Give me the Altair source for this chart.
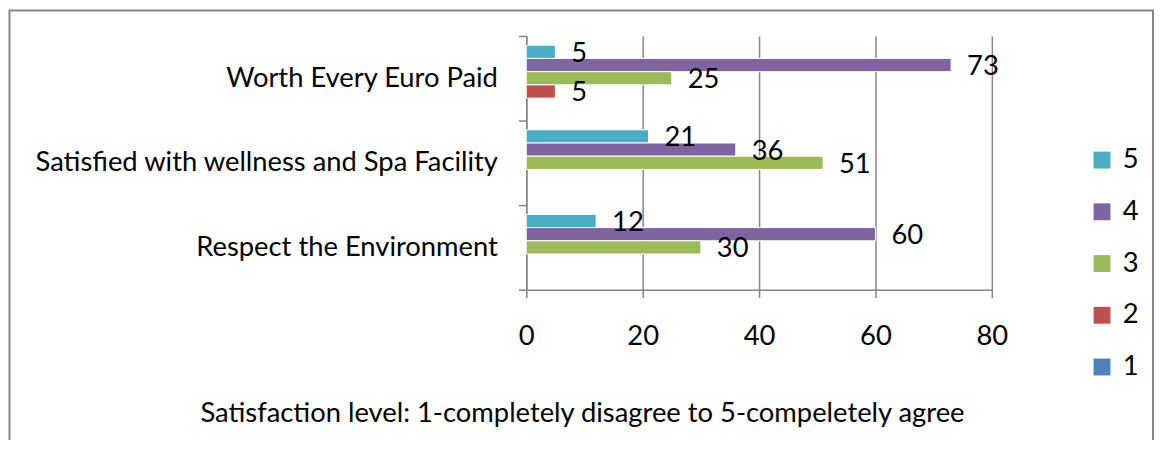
import altair as alt
import pandas as pd

categories = ["Worth Every Euro Paid", "Satisfied with wellness and Spa Facility", "Respect the Environment"]
levels = ["5", "4", "3", "2", "1"]
level5 = [5, 21, 12]
level4 = [73, 36, 60]
level3 = [25, 51, 30]
level2 = [5, 0, 0]
level1 = [0, 0, 0]
colors = ["#4BACC6", "#8064A2", "#9BBB59", "#C0504D", "#4F81BD"]
x_ticks = [0, 20, 40, 60, 80]
note = "Satisfaction level: 1-completely disagree to 5-compeletely agree"

series = {"5": level5, "4": level4, "3": level3, "2": level2, "1": level1}
rows = []
for lvl in levels:
    for cat, v in zip(categories, series[lvl]):
        rows.append({"category": cat, "level": lvl, "value": v})
df = pd.DataFrame(rows)

FONT = "Lato"
FS = 27.5
GRAY = "#868686"
PAD_L = 521

y_enc = alt.Y("category:N", sort=categories,
              scale=alt.Scale(domain=categories, paddingInner=0, paddingOuter=0),
              axis=alt.Axis(title=None, tickBand="extent", labelFont=FONT, labelFontSize=FS,
                            labelColor="black", labelPadding=21, tickSize=8, tickColor=GRAY,
                            tickWidth=1.5, domainColor=GRAY, domainWidth=1.5, grid=False,
                            labelLimit=600))
yoff_enc = alt.YOffset("level:N", scale=alt.Scale(domain=levels, paddingInner=0, paddingOuter=0.7))
x_enc = alt.X("value:Q", scale=alt.Scale(domain=[0, 80], nice=False),
              axis=alt.Axis(values=x_ticks, title=note, titleFont=FONT, titleFontSize=FS,
                            titleFontWeight="normal", titleColor="black", titleX=56, titleY=133,
                            titleAlign="center", titleBaseline="alphabetic", titleAnchor="start",
                            labelFont=FONT, labelFontSize=FS, labelColor="black", labelFlush=False,
                            labelBaseline="alphabetic", labelPadding=47, tickSize=8,
                            tickColor=GRAY, tickWidth=1.5, domainColor=GRAY, domainWidth=1.5,
                            grid=True, gridColor=GRAY, gridWidth=1.5))

base = alt.Chart(df).transform_filter("datum.value > 0")

bars = base.mark_bar(stroke="white", strokeWidth=1).encode(
    y=y_enc, yOffset=yoff_enc, x=x_enc,
    color=alt.Color("level:N", scale=alt.Scale(domain=levels, range=colors),
                    legend=alt.Legend(title=None, orient="none", legendX=565, legendY=111,
                                      symbolType="square", symbolSize=289, symbolStrokeWidth=0,
                                      labelFont=FONT, labelFontSize=FS, labelColor="black",
                                      rowPadding=23, labelOffset=7)),
)

labels = base.mark_text(align="left", baseline="middle", dx=16, dy=2, font=FONT,
                        fontSize=FS, color="black").encode(
    y=alt.Y("category:N", sort=categories), yOffset=yoff_enc, x="value:Q",
    text=alt.Text("value:Q"),
)

frame = alt.Chart(alt.Data(values=[{}])).mark_rect(
    fill=None, stroke=GRAY, strokeWidth=2
).encode(x=alt.value(1.5 - PAD_L), x2=alt.value(1151 - PAD_L), y=alt.value(-25.5), y2=alt.value(600))

chart = alt.layer(frame, bars, labels).properties(
    width=468, height=255,
    autosize=alt.AutoSizeParams(type="none"),
    padding={"left": PAD_L, "top": 27, "right": 1152 - PAD_L - 468, "bottom": 150},
).configure_view(stroke=None)

chart.save("out.html", embed_options={"renderer": "svg", "actions": False})
